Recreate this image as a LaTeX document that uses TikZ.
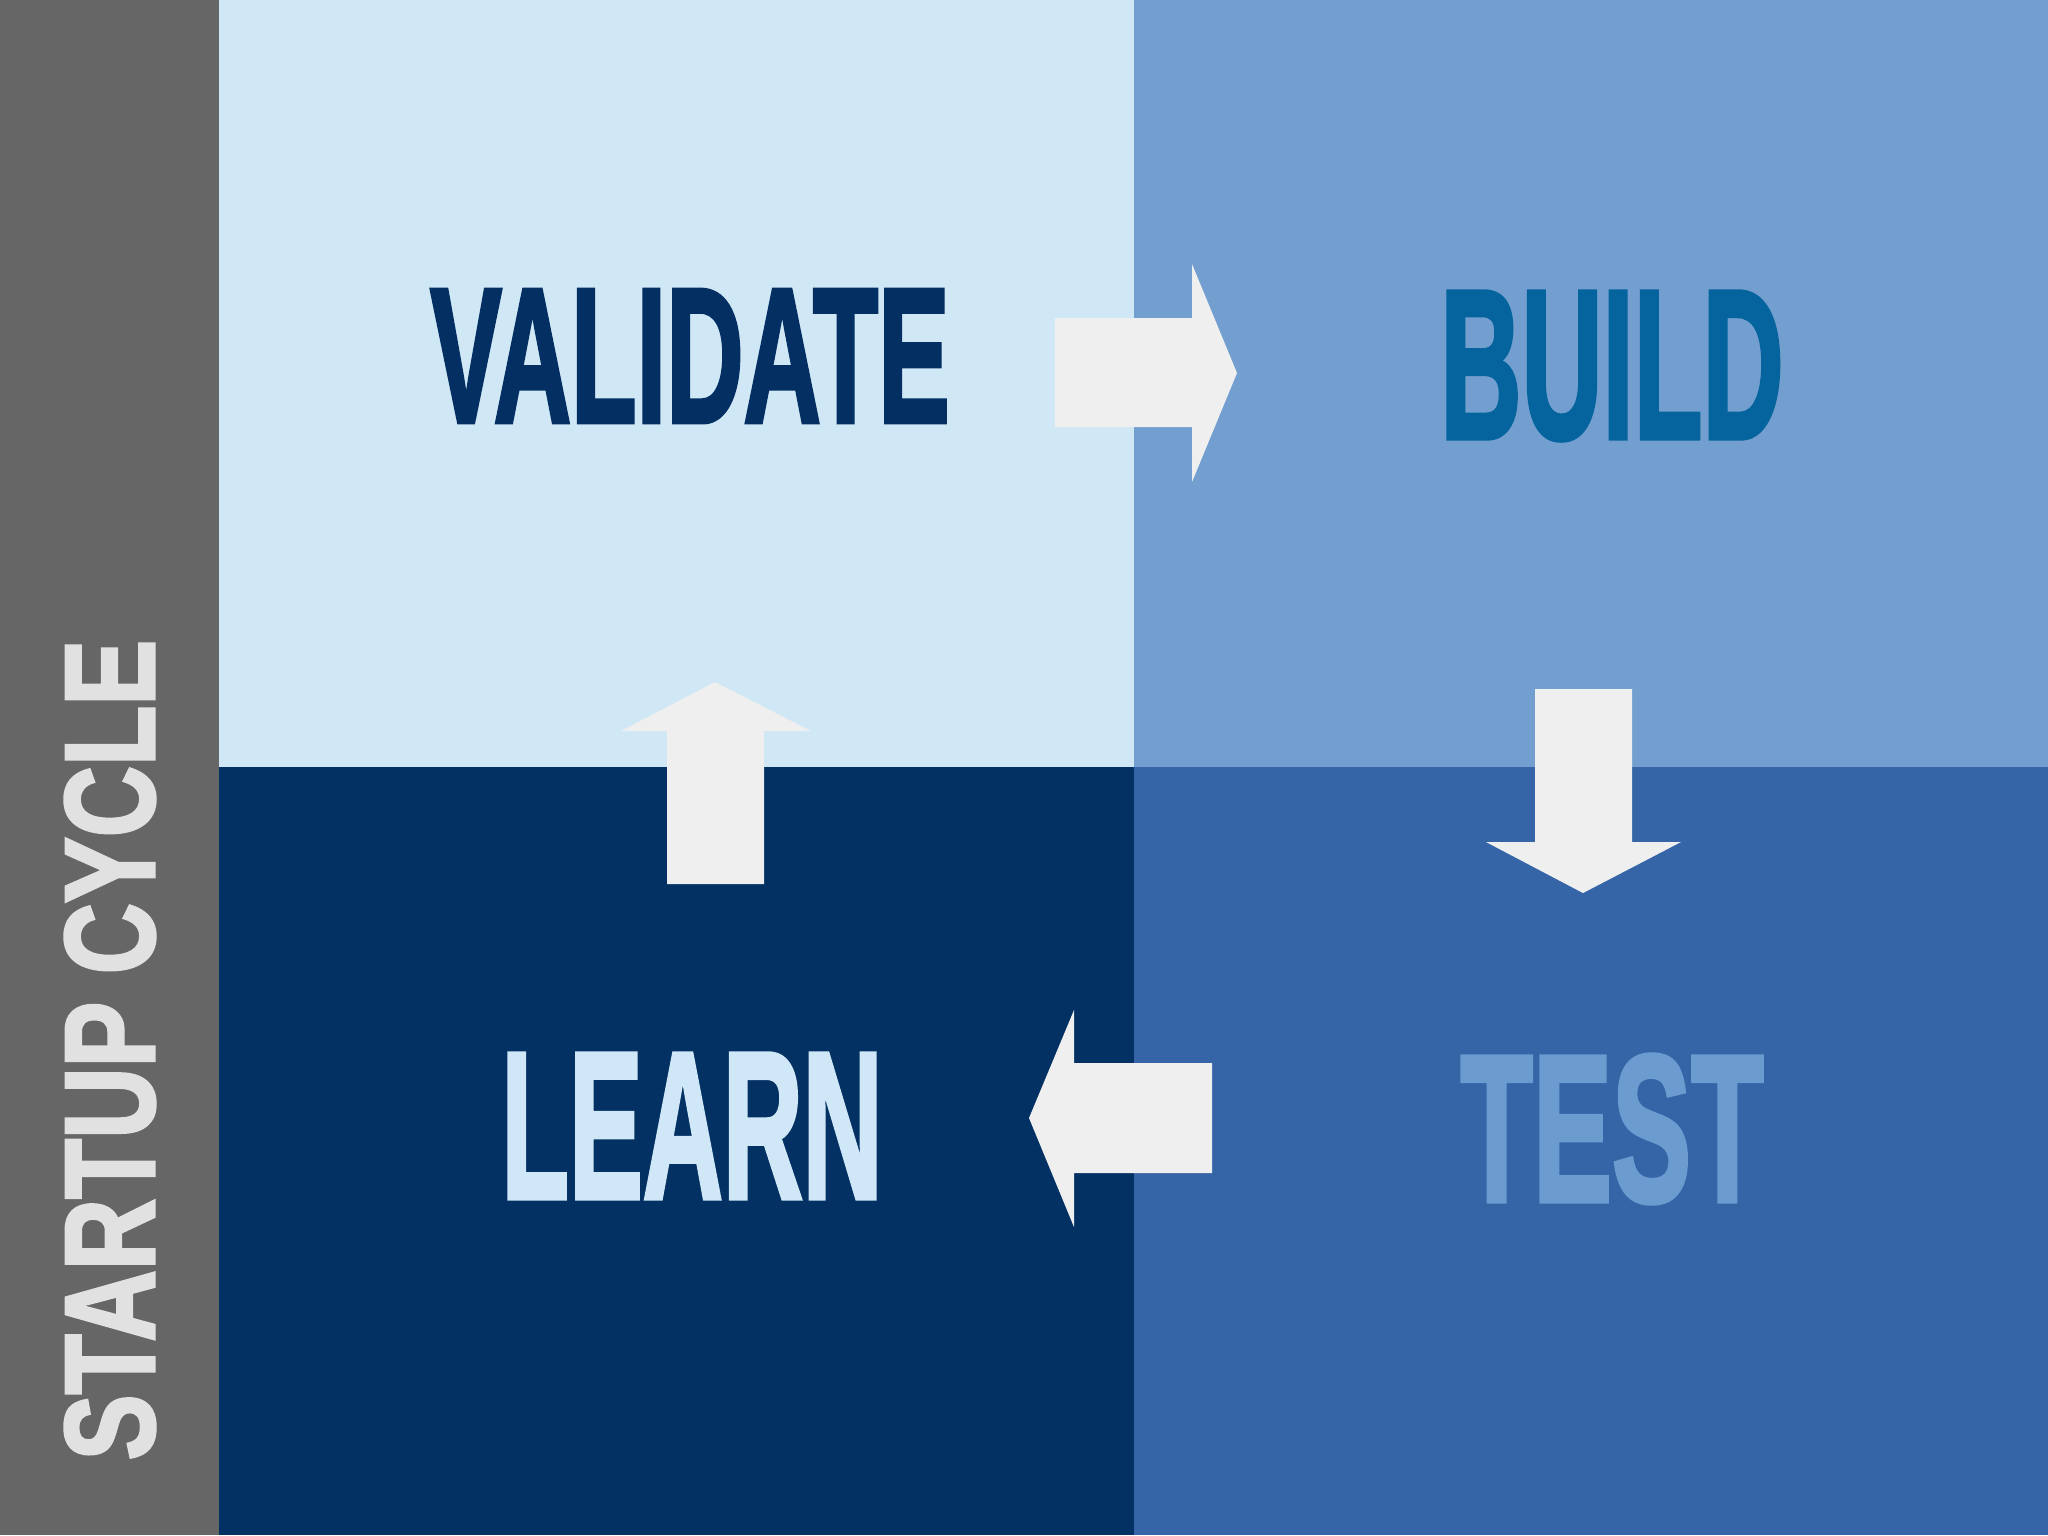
\documentclass[tikz,border=0pt]{standalone}
\usepackage{fontspec}
\setmainfont{Liberation Sans}[BoldFeatures={FakeBold=2.5}]
\usepackage{graphicx}

\definecolor{sidegray}{HTML}{666666}
\definecolor{sidetext}{HTML}{E1E1E1}
\definecolor{validatebg}{HTML}{D0E7F5}
\definecolor{buildbg}{HTML}{729FCF}
\definecolor{learnbg}{HTML}{033163}
\definecolor{testbg}{HTML}{3565A7}
\definecolor{arrowfill}{HTML}{EFEFF0}
\definecolor{validatefg}{HTML}{032F62}
\definecolor{buildfg}{HTML}{05649D}
\definecolor{learnfg}{HTML}{CFE7F6}
\definecolor{testfg}{HTML}{6C9CCF}

% word squeezed into a given box (condensed look)
\newcommand{\boxword}[3]{\resizebox{#1}{#2}{\bfseries #3}}

\begin{document}
\begin{tikzpicture}[
      x=0.01cm, y=-0.01cm,
      quad/.style ={fill=#1, draw=none},
      blockarrow/.style ={fill=arrowfill, draw=none},
      word/.style ={inner sep=0pt, text=#1}]
    \useasboundingbox (0,0) rectangle (2048,1535);
    % side bar and quadrants
    \fill[sidegray] (0,0) rectangle (219,1535);
    \fill[quad=validatebg] (219,0) rectangle (1134,767);
    \fill[quad=buildbg] (1134,0) rectangle (2048,767);
    \fill[quad=learnbg] (219,767) rectangle (1134,1535);
    \fill[quad=testbg] (1134,767) rectangle (2048,1535);
    % arrows
    \fill[blockarrow] (1055,318) -- (1192,318) -- (1192,264) -- (1237,373)
        -- (1192,482) -- (1192,427) -- (1055,427) -- cycle;
    \fill[blockarrow] (1535,689) -- (1632,689) -- (1632,842) -- (1681,842)
        -- (1583,893) -- (1486,842) -- (1535,842) -- cycle;
    \fill[blockarrow] (1212,1063) -- (1074,1063) -- (1074,1010) -- (1029,1118)
        -- (1074,1227) -- (1074,1173) -- (1212,1173) -- cycle;
    \fill[blockarrow] (667,884) -- (667,731) -- (621,731) -- (715,682)
        -- (811,731) -- (764,731) -- (764,884) -- cycle;
    % words
    \node[word=validatefg] (validate) at (690,356) {\boxword{5.19cm}{1.32cm}{VALIDATE}};
    \node[word=buildfg] (build) at (1612,366) {\boxword{3.43cm}{1.46cm}{BUILD}};
    \node[word=learnfg] (learn) at (692,1126) {\boxword{3.81cm}{1.44cm}{LEARN}};
    \node[word=testfg] (test) at (1612,1129) {\boxword{3.03cm}{1.46cm}{TEST}};
    \node[word=sidetext, rotate=90] (title) at (110,1050) {\boxword{8.2cm}{0.89cm}{STARTUP CYCLE}};
    \end{tikzpicture}
\end{document}
